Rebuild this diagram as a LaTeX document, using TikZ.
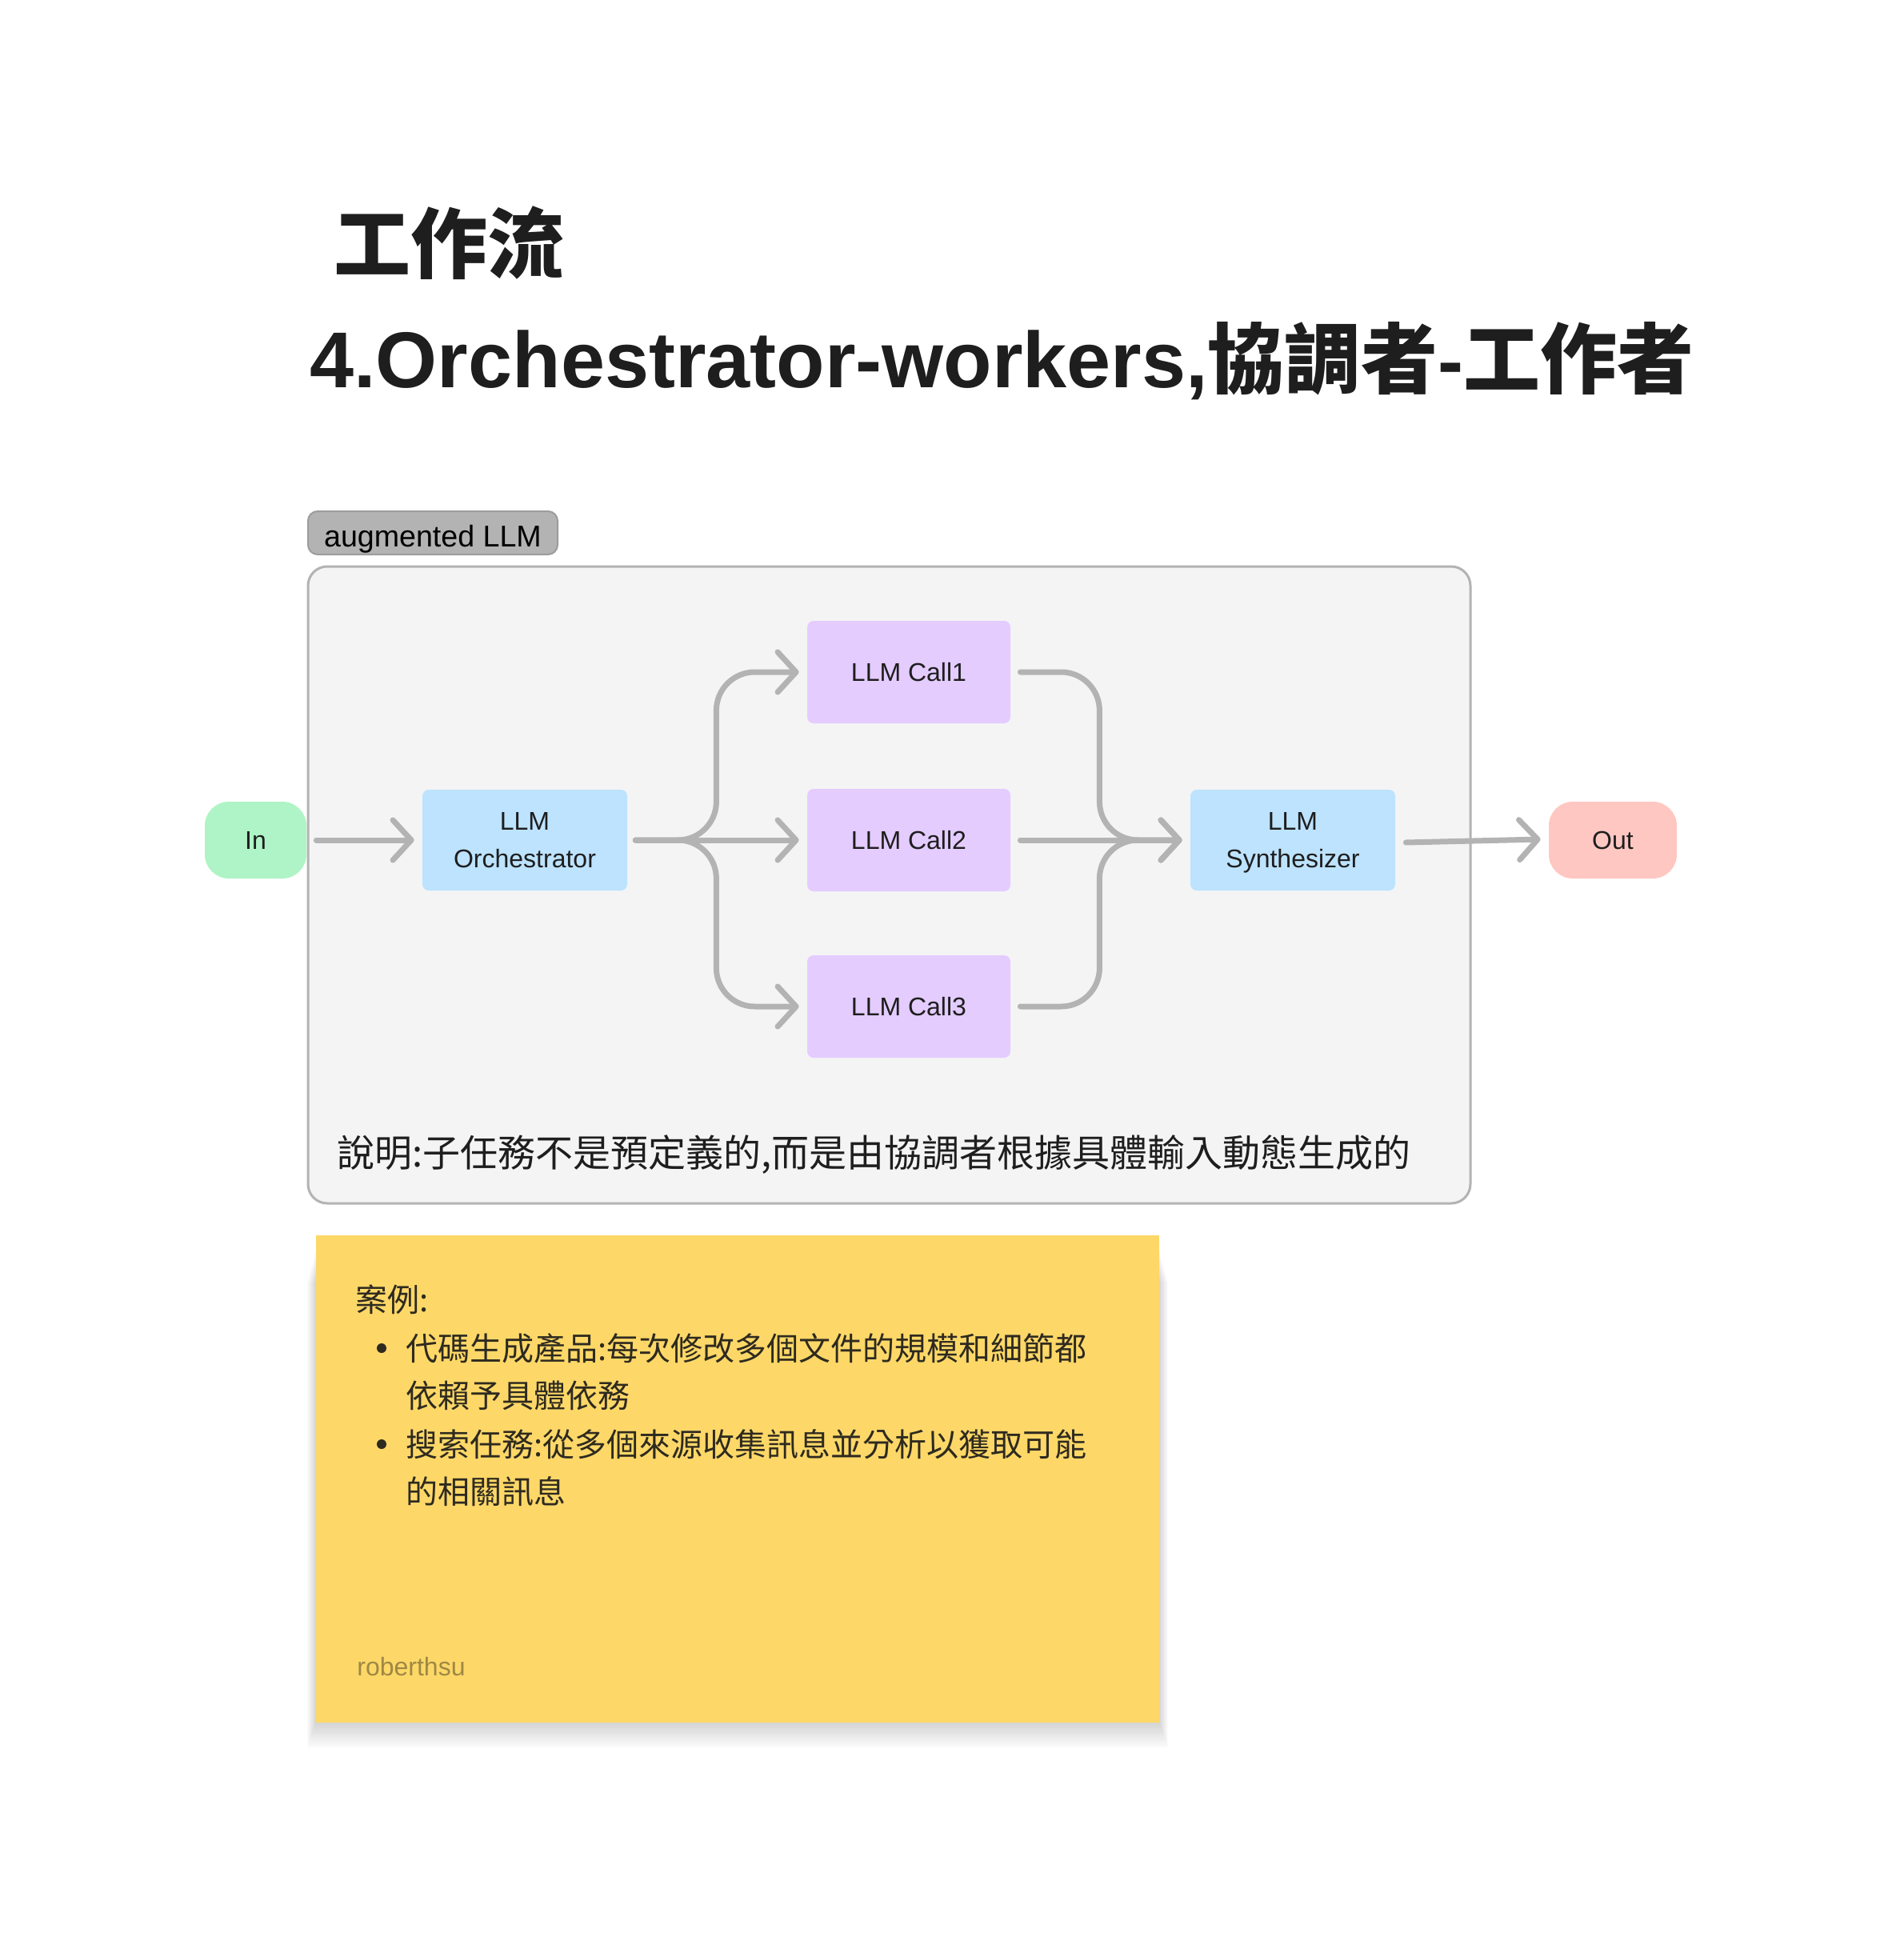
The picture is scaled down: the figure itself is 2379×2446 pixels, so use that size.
\documentclass[tikz,border=0pt]{standalone}
\usepackage{fontspec}
\setmainfont{Noto Sans CJK TC}
\newfontfamily\lat{Liberation Sans}
\usetikzlibrary{arrows.meta}
\definecolor{arrowgray}{HTML}{B3B3B3}
\definecolor{contfill}{HTML}{F4F4F4}
\definecolor{contdraw}{HTML}{B3B3B3}
\definecolor{labfill}{HTML}{B3B3B3}
\definecolor{labdraw}{HTML}{9C9C9C}
\definecolor{ingreen}{HTML}{AFF4C6}
\definecolor{outred}{HTML}{FFC7C2}
\definecolor{llmblue}{HTML}{BDE3FF}
\definecolor{calllav}{HTML}{E4CCFF}
\definecolor{noteyel}{HTML}{FDD868}
\definecolor{txt}{HTML}{1E1E1E}
\definecolor{notetxt}{HTML}{2E2A20}
\definecolor{signtxt}{HTML}{9E8844}
\begin{document}
\begin{tikzpicture}[x=0.5pt,y=-0.5pt,
  box/.style={rounded corners=4pt, inner sep=0pt, align=center, text=txt,
    font=\lat\fontsize{16}{23.5}\selectfont},
  llm/.style={box, fill=llmblue, minimum width=128pt, minimum height=63pt, text depth=0pt},
  callbox/.style={box, fill=calllav, minimum width=127pt, minimum height=64pt},
  term/.style={box, rounded corners=15pt, minimum height=48pt},
  conn/.style={draw=arrowgray, line width=3.5pt, line cap=round, line join=round,
    rounded corners=24pt, -{Straight Barb[length=11.5pt,width=25pt,round]}},
  notetext/.style={anchor=west, inner sep=0pt, text=notetxt, font=\fontsize{20}{24}\selectfont},
  bullet/.style={circle, fill=notetxt, inner sep=0pt, minimum size=6pt},
]
\useasboundingbox (0,0) rectangle (2379,2446);
\fill[white] (0,0) rectangle (2379,2446);

% titles
\node[anchor=base west, inner sep=0pt, text=txt, font=\bfseries\fontsize{48}{58}\selectfont] (t1) at (417,340) {工作流};
\node[anchor=base west, inner sep=0pt, text=txt, font=\bfseries\fontsize{48}{58}\selectfont] (t2) at (387,484)
  {{\lat\fontsize{49.5}{58}\selectfont 4.Orchestrator-workers,}協調者{\lat -}工作者};

% container
\node[draw=contdraw, fill=contfill, line width=1.5pt, rounded corners=12pt,
  minimum width=726.5pt, minimum height=398pt, inner sep=0pt] (cont) at (1111.5,1106) {};
\node[draw=labdraw, fill=labfill, line width=1pt, rounded corners=6pt,
  minimum width=156pt, minimum height=27pt, inner sep=0pt, text=black,
  text height=17pt, text depth=0pt,
  font=\lat\fontsize{18.8}{20}\selectfont] (lab) at (541,666) {augmented LLM};

% nodes
\node[term, fill=ingreen, minimum width=63.5pt] (in) at (319.5,1050) {In};
\node[llm] (orch) at (656,1050) {LLM\\Orchestrator};
\node[callbox] (call1) at (1136,840) {LLM Call1};
\node[callbox] (call2) at (1136,1050) {LLM Call2};
\node[callbox] (call3) at (1136,1258) {LLM Call3};
\node[llm] (synth) at (1616,1050) {LLM\\Synthesizer};
\node[term, fill=outred, minimum width=80pt] (out) at (2016,1050) {Out};

% connectors
\draw[conn] ([xshift=6pt]in.east) -- ([xshift=-5pt]orch.west);
\draw[conn] ([xshift=5pt]orch.east) -- ++(101,0) |- ([xshift=-5pt]call1.west);
\draw[conn] ([xshift=5pt]orch.east) -- ([xshift=-5pt]call2.west);
\draw[conn] ([xshift=5pt]orch.east) -- ++(101,0) |- ([xshift=-5pt]call3.west);
\draw[conn] ([xshift=6pt]call1.east) -- ++(99,0) |- ([xshift=-5pt]synth.west);
\draw[conn] ([xshift=6pt]call2.east) -- ([xshift=-5pt]synth.west);
\draw[conn] ([xshift=6pt]call3.east) -- ++(99,0) |- ([xshift=-5pt]synth.west);
\draw[conn] ([xshift=6.5pt,yshift=-1.5pt]synth.east) -- ([xshift=-5pt,yshift=0.5pt]out.west);

% description
\node[anchor=west, inner sep=0pt, text=txt, font=\fontsize{23.5}{28}\selectfont] (desc) at (421,1443)
  {說明:子任務不是預定義的,而是由協調者根據具體輸入動態生成的};

% sticky note shadow (soft, mostly below)
\foreach \i in {1,...,14}
  \fill[black, opacity=0.011] (395-0.8*\i,1560+3*\i) rectangle (1449+0.8*\i,2153+2.3*\i);
% sticky note
\node[fill=noteyel, minimum width=527pt, minimum height=304.5pt, inner sep=0pt] (note) at (922,1848.5) {};
\node[notetext] (n0) at (444,1624) {案例:};
\node[bullet] (b1) at (477,1685) {};
\node[notetext] (n1) at (507,1685) {代碼生成產品:每次修改多個文件的規模和細節都};
\node[notetext] (n2) at (507,1744) {依賴予具體依務};
\node[bullet] (b2) at (477,1805) {};
\node[notetext] (n3) at (507,1805) {搜索任務:從多個來源收集訊息並分析以獲取可能};
\node[notetext] (n4) at (507,1864) {的相關訊息};
\node[anchor=west, inner sep=0pt, text=signtxt, font=\lat\fontsize{16}{20}\selectfont] (sign) at (446,2083) {roberthsu};
\end{tikzpicture}
\end{document}
